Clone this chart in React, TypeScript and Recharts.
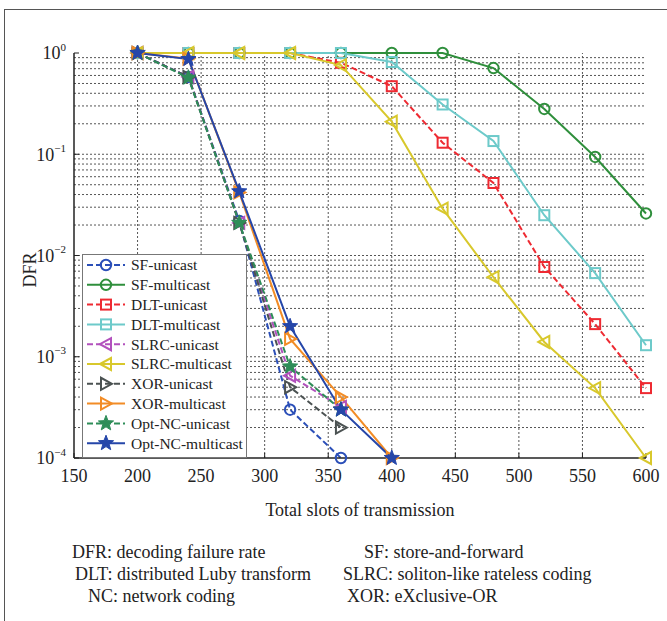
import React from 'react';
import { LineChart, Line, XAxis, YAxis, ReferenceLine } from 'recharts';

const FONT = '"Liberation Serif", "DejaVu Serif", serif';

const slots = [200, 240, 280, 320, 360, 400, 440, 480, 520, 560, 600];

const sfUnicast = [1, 0.58, 0.022, 0.0003, 0.0001, null, null, null, null, null, null];
const sfMulticast = [1, 1, 1, 1, 1, 1, 1, 0.71, 0.28, 0.094, 0.026];
const dltUnicast = [1, 1, 1, 1, 0.8, 0.47, 0.13, 0.052, 0.0077, 0.0021, 0.00049];
const dltMulticast = [1, 1, 1, 1, 1, 0.815, 0.31, 0.135, 0.025, 0.0067, 0.0013];
const slrcUnicast = [1, 0.58, 0.021, 0.00065, 0.00032, null, null, null, null, null, null];
const slrcMulticast = [1, 1, 1, 1, 0.76, 0.21, 0.029, 0.0061, 0.0014, 0.00049, 0.0001];
const xorUnicast = [1, 0.58, 0.021, 0.0005, 0.0002, null, null, null, null, null, null];
const xorMulticast = [1, 0.88, 0.042, 0.0015, 0.0004, 0.0001, null, null, null, null, null];
const optNcUnicast = [1, 0.57, 0.021, 0.0008, 0.0003, null, null, null, null, null, null];
const optNcMulticast = [1, 0.87, 0.043, 0.002, 0.0003, 0.0001, null, null, null, null, null];

const xTicks = [150, 200, 250, 300, 350, 400, 450, 500, 550, 600];
const yTicks = [0.0001, 0.001, 0.01, 0.1, 1];
const gridX = [200, 250, 300, 350, 400, 450, 500, 550];
const decades = [0.0001, 0.001, 0.01, 0.1];
const multipliers = [1, 2, 3, 4, 5, 6, 7, 8, 9];

const captionLeft = ['DFR: decoding failure rate', 'DLT: distributed Luby transform', 'NC: network coding'];
const captionRight = ['SF: store-and-forward', 'SLRC: soliton-like rateless coding', 'XOR: eXclusive-OR'];

type MarkerType = 'circle' | 'square' | 'triLeft' | 'triRight' | 'star';

const series: { key: string; name: string; values: (number | null)[]; color: string; dashed: boolean; marker: MarkerType }[] = [
  { key: 'sfU', name: 'SF-unicast', values: sfUnicast, color: '#2b4fb8', dashed: true, marker: 'circle' },
  { key: 'sfM', name: 'SF-multicast', values: sfMulticast, color: '#2f8f3c', dashed: false, marker: 'circle' },
  { key: 'dltU', name: 'DLT-unicast', values: dltUnicast, color: '#ee2a32', dashed: true, marker: 'square' },
  { key: 'dltM', name: 'DLT-multicast', values: dltMulticast, color: '#6dcaca', dashed: false, marker: 'square' },
  { key: 'slrcU', name: 'SLRC-unicast', values: slrcUnicast, color: '#b251bd', dashed: true, marker: 'triLeft' },
  { key: 'slrcM', name: 'SLRC-multicast', values: slrcMulticast, color: '#d8c82c', dashed: false, marker: 'triLeft' },
  { key: 'xorU', name: 'XOR-unicast', values: xorUnicast, color: '#4b5252', dashed: true, marker: 'triRight' },
  { key: 'xorM', name: 'XOR-multicast', values: xorMulticast, color: '#f28c26', dashed: false, marker: 'triRight' },
  { key: 'optU', name: 'Opt-NC-unicast', values: optNcUnicast, color: '#2e8d58', dashed: true, marker: 'star' },
  { key: 'optM', name: 'Opt-NC-multicast', values: optNcMulticast, color: '#2546a9', dashed: false, marker: 'star' },
];

const data = slots.map((x, i) => {
  const row: Record<string, number | null> = { x };
  series.forEach((s) => {
    row[s.key] = s.values[i];
  });
  return row;
});

const gridY = decades.flatMap((d) => multipliers.map((m) => m * d)).filter((v) => v > 0.00011 && v < 0.99);

function starPoints(cx: number, cy: number, ro: number, ri: number) {
  const pts: string[] = [];
  for (let i = 0; i < 10; i++) {
    const r = i % 2 === 0 ? ro : ri;
    const a = -Math.PI / 2 + (i * Math.PI) / 5;
    pts.push(`${cx + r * Math.cos(a)},${cy + r * Math.sin(a)}`);
  }
  return pts.join(' ');
}

function Marker({ type, cx, cy, color }: { type: MarkerType; cx: number; cy: number; color: string }) {
  const sw = 2;
  if (type === 'circle') return <circle cx={cx} cy={cy} r={5.2} fill="none" stroke={color} strokeWidth={sw} />;
  if (type === 'square') return <rect x={cx - 5} y={cy - 5} width={10} height={10} fill="none" stroke={color} strokeWidth={sw} />;
  if (type === 'triLeft')
    return <polygon points={`${cx - 6},${cy} ${cx + 5},${cy - 6} ${cx + 5},${cy + 6}`} fill="none" stroke={color} strokeWidth={sw} />;
  if (type === 'triRight')
    return <polygon points={`${cx + 6},${cy} ${cx - 5},${cy - 6} ${cx - 5},${cy + 6}`} fill="none" stroke={color} strokeWidth={sw} />;
  return <polygon points={starPoints(cx, cy, 8, 3.4)} fill={color} stroke={color} strokeWidth={1} />;
}

function YTick(props: any) {
  const { x, y, payload } = props;
  const exp = Math.round(Math.log10(payload.value));
  const expText = exp === 0 ? '0' : `\u2212${Math.abs(exp)}`;
  return (
    <text x={x} y={y} textAnchor="end" fontFamily={FONT} fontSize={18} fill="#222">
      <tspan dy="0.35em">10</tspan>
      <tspan dy="-0.8em" fontSize={11}>{expText}</tspan>
    </text>
  );
}

function Legend() {
  const rowH = 19.8;
  return (
    <div
      style={{
        position: 'absolute',
        left: 82,
        top: 254,
        width: 165,
        height: 204,
        border: '1px solid #777',
        background: '#fff',
        boxSizing: 'border-box',
      }}
    >
      <svg width={165} height={204} style={{ position: 'absolute', left: -1, top: -1 }}>
        {series.map((s, i) => {
          const cy = 11 + i * rowH;
          return (
            <g key={s.key}>
              <line x1={5} x2={43} y1={cy} y2={cy} stroke={s.color} strokeWidth={2} strokeDasharray={s.dashed ? '6 3' : undefined} />
              <Marker type={s.marker} cx={24} cy={cy} color={s.color} />
              <text x={49} y={cy} dy="0.35em" fontFamily={FONT} fontSize={15.5} fill="#222">
                {s.name}
              </text>
            </g>
          );
        })}
      </svg>
    </div>
  );
}

export default function App() {
  return (
    <div style={{ position: 'absolute', left: 0, top: 0, width: 667, height: 621, background: '#fff', overflow: 'hidden' }}>
      <div style={{ position: 'absolute', left: 4, top: 9, width: 680, height: 640, borderLeft: '1.5px solid #555', borderTop: '1.5px solid #555' }} />
      <div style={{ position: 'absolute', left: 0, top: 0 }}>
        <LineChart width={667} height={621} data={data} margin={{ top: 53, right: 21, left: 14, bottom: 133 }}>
          {gridY.map((v) => (
            <ReferenceLine key={`gy${v}`} y={v} stroke="#555" strokeDasharray="2 2" strokeWidth={1} />
          ))}
          {gridX.map((v) => (
            <ReferenceLine key={`gx${v}`} x={v} stroke="#555" strokeDasharray="2 2" strokeWidth={1} />
          ))}
          <XAxis
            type="number"
            dataKey="x"
            domain={[150, 600]}
            ticks={xTicks}
            interval={0}
            tickSize={-5}
            tickMargin={16}
            tickLine={{ stroke: '#222', strokeWidth: 1 }}
            tick={{ fontSize: 18, fill: '#222', fontFamily: FONT }}
            axisLine={{ stroke: '#222', strokeWidth: 1.5 }}
            height={30}
          />
          <YAxis
            type="number"
            scale="log"
            domain={[0.0001, 1]}
            ticks={yTicks}
            interval={0}
            tickSize={-5}
            tickMargin={13}
            tickLine={{ stroke: '#222', strokeWidth: 1 }}
            tick={<YTick />}
            axisLine={{ stroke: '#222', strokeWidth: 1.5 }}
            width={60}
          />
          {series.map((s) => (
            <Line
              key={s.key}
              dataKey={s.key}
              name={s.name}
              type="linear"
              stroke={s.color}
              strokeWidth={2}
              strokeDasharray={s.dashed ? '6 3' : undefined}
              isAnimationActive={false}
              connectNulls={false}
              activeDot={false}
              dot={(p: any) => {
                const k = `${s.key}-${p.index}`;
                if (p.cx == null || p.cy == null || p.value == null || Number.isNaN(p.cy)) return <g key={k} />;
                return (
                  <g key={k}>
                    <Marker type={s.marker} cx={p.cx} cy={p.cy} color={s.color} />
                  </g>
                );
              }}
            />
          ))}
        </LineChart>
      </div>
      <Legend />
      <svg width={667} height={621} style={{ position: 'absolute', left: 0, top: 0, pointerEvents: 'none' }}>
        <text x={30} y={270} transform="rotate(-90 30 270)" textAnchor="middle" dy="0.35em" fontFamily={FONT} fontSize={18} fill="#222">
          DFR
        </text>
        <text x={360} y={510} textAnchor="middle" dy="0.35em" fontFamily={FONT} fontSize={18} fill="#222">
          Total slots of transmission
        </text>
        {captionLeft.map((t, i) => (
          <text key={t} x={[72, 75, 88][i]} y={558 + i * 22} fontFamily={FONT} fontSize={18} fill="#222">
            {t}
          </text>
        ))}
        {captionRight.map((t, i) => (
          <text key={t} x={[364, 343, 347][i]} y={558 + i * 22} fontFamily={FONT} fontSize={18} fill="#222">
            {t}
          </text>
        ))}
      </svg>
    </div>
  );
}
